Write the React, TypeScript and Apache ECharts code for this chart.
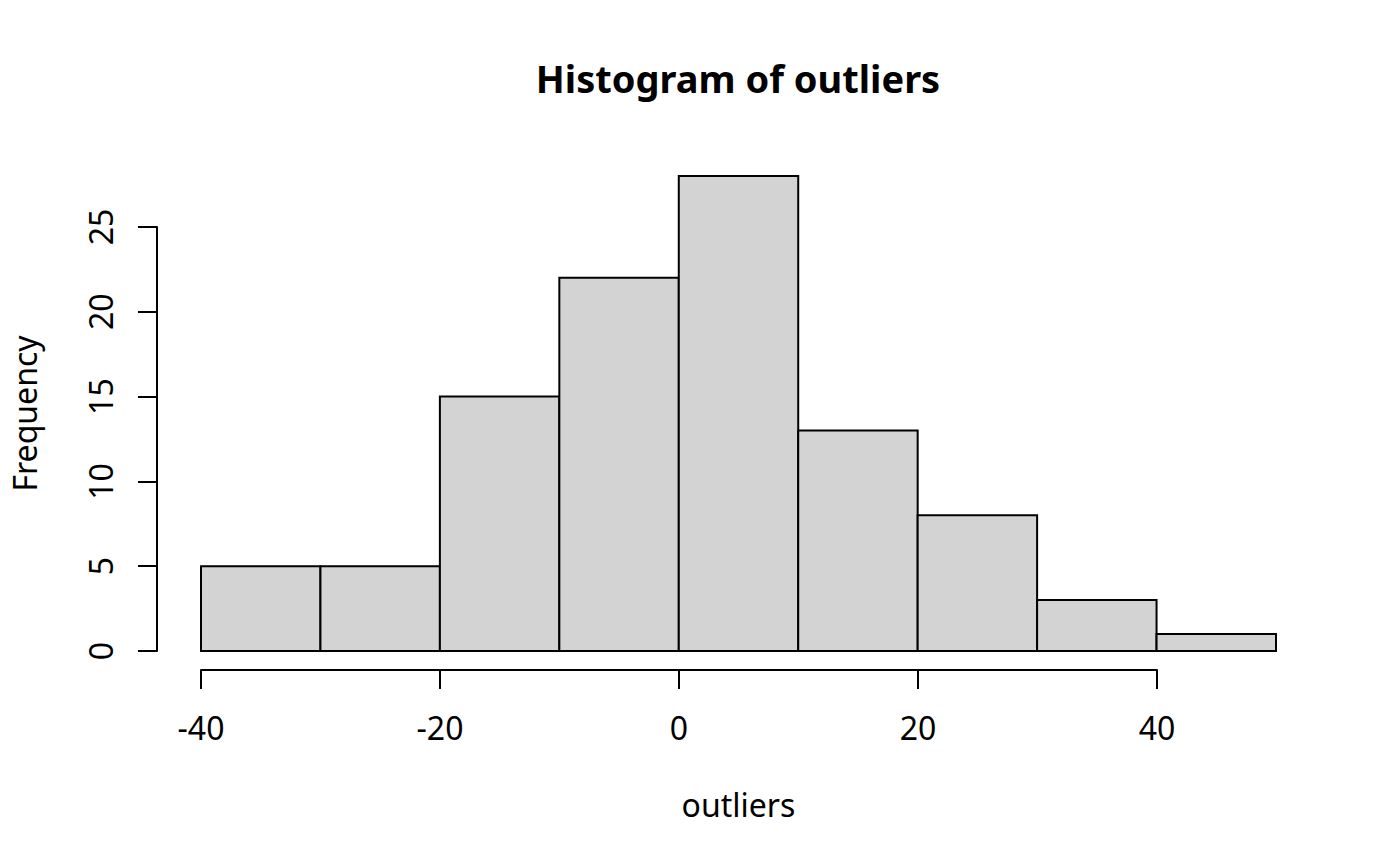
import React, { useEffect, useRef } from "react";
import * as echarts from "echarts";

const breaks = [-40, -30, -20, -10, 0, 10, 20, 30, 40, 50];
const counts = [5, 5, 15, 22, 28, 13, 8, 3, 1];
const titleText = "Histogram of outliers";
const xLabel = "outliers";
const yLabel = "Frequency";

const FONT = "'Noto Sans', 'Open Sans', sans-serif";

export default function App() {
  const ref = useRef<HTMLDivElement>(null);
  useEffect(() => {
    if (!ref.current) return;
    const chart = echarts.init(ref.current, null, { renderer: "svg" });
    const bins = counts.map((c, i) => [breaks[i], breaks[i + 1], c]);
    const xr = breaks[breaks.length - 1] - breaks[0];
    const xMin = breaks[0] - xr * 0.04;
    const xMax = breaks[breaks.length - 1] + xr * 0.04;
    const yTop = Math.max(...counts);
    const yMin = -yTop * 0.04;
    const yMax = yTop * 1.04;
    const axisLineStyle = { color: "#000", width: 2 };
    chart.setOption({
      animation: false,
      backgroundColor: "#fff",
      textStyle: { fontFamily: FONT },
      title: {
        text: titleText,
        left: 733,
        top: 54,
        textAlign: "center",
        textStyle: { fontFamily: FONT, fontWeight: "bold", fontSize: 38, color: "#000" },
      },
      grid: [
        { left: 157, top: 157, width: 1162, height: 513 },
        { left: 201, top: 157, width: 956, height: 513 },
        { left: 157, top: 227, width: 100, height: 424 },
      ],
      xAxis: [
        {
          gridIndex: 0,
          type: "value",
          min: xMin,
          max: xMax,
          axisLine: { show: false },
          axisTick: { show: false },
          axisLabel: { show: false },
          splitLine: { show: false },
          name: xLabel,
          nameLocation: "middle",
          nameGap: 118,
          nameTextStyle: { fontFamily: FONT, fontSize: 32, color: "#000" },
        },
        {
          gridIndex: 1,
          type: "value",
          min: -40,
          max: 40,
          interval: 20,
          position: "bottom",
          axisLine: { show: true, lineStyle: axisLineStyle },
          axisTick: { show: true, length: 19, lineStyle: axisLineStyle },
          axisLabel: { margin: 41, fontFamily: FONT, fontSize: 32, color: "#000" },
          splitLine: { show: false },
        },
        { gridIndex: 2, type: "value", show: false },
      ],
      yAxis: [
        {
          gridIndex: 0,
          type: "value",
          min: yMin,
          max: yMax,
          axisLine: { show: false },
          axisTick: { show: false },
          axisLabel: { show: false },
          splitLine: { show: false },
          name: yLabel,
          nameLocation: "middle",
          nameRotate: 90,
          nameGap: 118,
          nameTextStyle: { fontFamily: FONT, fontSize: 32, color: "#000" },
        },
        { gridIndex: 1, type: "value", show: false },
        {
          gridIndex: 2,
          type: "value",
          min: 0,
          max: 25,
          interval: 5,
          position: "left",
          axisLine: { show: true, lineStyle: axisLineStyle },
          axisTick: { show: true, length: 19, lineStyle: axisLineStyle },
          axisLabel: { margin: 41, rotate: 90, fontFamily: FONT, fontSize: 32, color: "#000" },
          splitLine: { show: false },
        },
      ],
      series: [
        {
          type: "custom",
          xAxisIndex: 0,
          yAxisIndex: 0,
          data: bins,
          renderItem: (params: any, api: any) => {
            const p0 = api.coord([api.value(0), api.value(2)]);
            const p1 = api.coord([api.value(1), 0]);
            return {
              type: "rect",
              shape: { x: p0[0], y: p0[1], width: p1[0] - p0[0], height: p1[1] - p0[1] },
              style: { fill: "#d3d3d3", stroke: "#000", lineWidth: 2 },
            };
          },
        },
      ],
    });
    return () => chart.dispose();
  }, []);
  return (
    <div
      ref={ref}
      style={{ position: "fixed", left: 0, top: 0, width: 1400, height: 866, background: "#fff" }}
    />
  );
}
